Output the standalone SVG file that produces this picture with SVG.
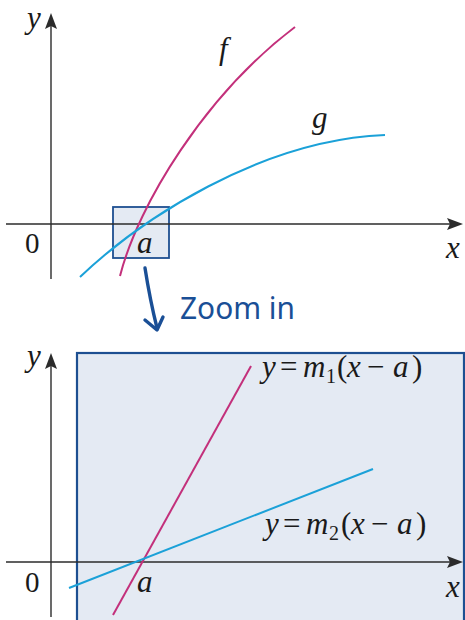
<svg xmlns="http://www.w3.org/2000/svg" width="465" height="620" viewBox="0 0 465 620">
<style>
.axis{stroke:#2b2b2b;stroke-width:1.4;fill:none}
.head{fill:#2b2b2b;stroke:none}
.box{fill:#e4eaf3;stroke:#1d4f91}
.fcurve{stroke:#c3307b;stroke-width:2;fill:none}
.gcurve{stroke:#1ba1d8;stroke-width:2;fill:none}
.m{font-family:"Liberation Serif","Times New Roman",serif;font-style:italic;font-size:31px;fill:#1a1a1a}
.r{font-style:normal}
.num{font-family:"Liberation Serif","Times New Roman",serif;font-size:29px;fill:#1a1a1a}
.hand{stroke:#1a4f96;stroke-width:3.4;fill:none;stroke-linecap:round;stroke-linejoin:round}
.handtext{font-family:"Noto Sans","DejaVu Sans",sans-serif;font-size:30px;fill:#1a4f96}
</style>
<defs>
<path id="ahUp" d="M0,0 L6,16 L0,13 L-6,16 Z"/>
<path id="ahRight" d="M0,0 L-16,-6 L-13,0 L-16,6 Z"/>
</defs>

<g id="top-panel">
  <g id="zoom-box">
    <rect class="box" x="113" y="207" width="56" height="51" stroke-width="1.8"/>
  </g>
  <g id="top-axes">
    <line class="axis" x1="51" y1="20" x2="51" y2="279"/>
    <use href="#ahUp" class="head" x="51" y="13"/>
    <line class="axis" x1="6" y1="224" x2="455" y2="224"/>
    <use href="#ahRight" class="head" x="463" y="224"/>
    <text class="m" x="27" y="28" font-size="29">y</text>
    <text class="num" x="25" y="253">0</text>
    <text class="m" x="446" y="258">x</text>
    <text class="m" x="137" y="253">a</text>
  </g>
  <g id="curve-f">
    <path class="fcurve" d="M120,276 C138,205 205,95 295,27"/>
    <text class="m" x="219" y="59">f</text>
  </g>
  <g id="curve-g">
    <path class="gcurve" d="M80,277 C140,220 260,140 385,135"/>
    <text class="m" x="312" y="128">g</text>
  </g>
</g>

<g id="connectors">
  <g id="zoom-arrow">
    <path class="hand" d="M145,268 Q150,300 157,328"/>
    <path class="hand" d="M145,320 L157,330 L163,317"/>
    <text class="handtext" x="180" y="319" textLength="115" lengthAdjust="spacingAndGlyphs">Zoom in</text>
  </g>
</g>

<g id="bottom-panel">
  <g id="zoomed-view">
    <rect class="box" x="77" y="353" width="387" height="280" stroke-width="2.2"/>
  </g>
  <g id="bottom-axes">
    <line class="axis" x1="51" y1="360" x2="51" y2="617"/>
    <use href="#ahUp" class="head" x="51" y="353"/>
    <line class="axis" x1="6" y1="562" x2="455" y2="562"/>
    <use href="#ahRight" class="head" x="463" y="562"/>
    <text class="m" x="27" y="366" font-size="29">y</text>
    <text class="num" x="25" y="592">0</text>
    <text class="m" x="446" y="597">x</text>
    <text class="m" x="137" y="592">a</text>
  </g>
  <g id="tangent-1">
    <line class="fcurve" x1="113" y1="615" x2="251" y2="366"/>
    <text class="m" y="377"><tspan x="262">y</tspan><tspan class="r" x="280">=</tspan><tspan x="303">m</tspan><tspan class="r" x="326" dy="6" font-size="20">1</tspan><tspan class="r" x="337" dy="-6">(</tspan><tspan x="347">x</tspan><tspan class="r" x="367">−</tspan><tspan x="393">a</tspan><tspan class="r" x="412">)</tspan></text>
  </g>
  <g id="tangent-2">
    <line class="gcurve" x1="69" y1="588" x2="373" y2="469"/>
    <text class="m" y="534"><tspan x="265">y</tspan><tspan class="r" x="283">=</tspan><tspan x="306">m</tspan><tspan class="r" x="329" dy="6" font-size="20">2</tspan><tspan class="r" x="341" dy="-6">(</tspan><tspan x="351">x</tspan><tspan class="r" x="371">−</tspan><tspan x="397">a</tspan><tspan class="r" x="416">)</tspan></text>
  </g>
</g>
</svg>
